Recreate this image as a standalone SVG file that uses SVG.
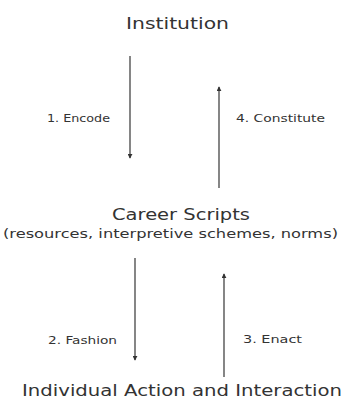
<svg xmlns="http://www.w3.org/2000/svg" width="345" height="408" viewBox="0 0 345 408">
<style>
text{font-family:"DejaVu Sans","Liberation Sans",sans-serif;fill:#333;}
.big{font-size:15px;}
.sub{font-size:11.5px;}
.lbl{font-size:10px;}
.arr{stroke:#444;stroke-width:1.3;fill:none;marker-end:url(#ah);}
</style>
<defs>
<marker id="ah" viewBox="0 0 6 6" refX="5" refY="3" markerWidth="5" markerHeight="5" orient="auto" markerUnits="userSpaceOnUse">
<path d="M0,0 L6,3 L0,6 z" fill="#333"/>
</marker>
</defs>
<rect width="345" height="408" fill="#fff"/>
<g id="institution"><text class="big" x="126" y="29" textLength="103" lengthAdjust="spacingAndGlyphs">Institution</text></g>
<g id="career-scripts">
<text class="big" x="112" y="220" textLength="138" lengthAdjust="spacingAndGlyphs">Career Scripts</text>
<text class="sub" x="3" y="238" textLength="335" lengthAdjust="spacingAndGlyphs">(resources, interpretive schemes, norms)</text>
</g>
<g id="individual"><text class="big" x="22" y="396" textLength="320" lengthAdjust="spacingAndGlyphs">Individual Action and Interaction</text></g>
<g id="connectors">
<line class="arr" x1="130" y1="56" x2="130" y2="158"/>
<line class="arr" x1="219" y1="188" x2="219" y2="87"/>
<line class="arr" x1="135" y1="258" x2="135" y2="360"/>
<line class="arr" x1="224" y1="377" x2="224" y2="274"/>
<text class="lbl" x="47" y="122" textLength="63" lengthAdjust="spacingAndGlyphs">1. Encode</text>
<text class="lbl" x="236" y="122" textLength="89" lengthAdjust="spacingAndGlyphs">4. Constitute</text>
<text class="lbl" x="48" y="344" textLength="69" lengthAdjust="spacingAndGlyphs">2. Fashion</text>
<text class="lbl" x="243" y="343" textLength="59" lengthAdjust="spacingAndGlyphs">3. Enact</text>
</g>
</svg>
